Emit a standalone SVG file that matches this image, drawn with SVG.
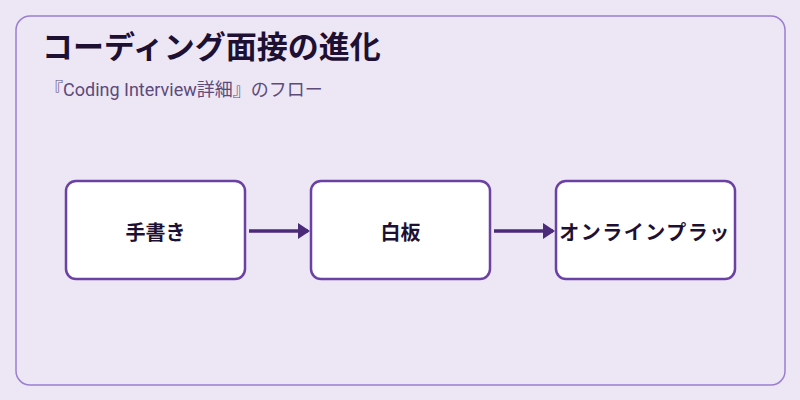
<svg xmlns="http://www.w3.org/2000/svg" width="800" height="400" viewBox="0 0 800 400">
<style>
.node rect{fill:#ffffff;stroke:#6b42a3;stroke-width:2.5}
.node text{font-family:"Noto Sans CJK JP","Noto Sans",sans-serif;font-size:20px;font-weight:bold;fill:#1e1033;text-anchor:middle;dominant-baseline:central}
.conn line{stroke:#4b2a7a;stroke-width:3.5}
</style>
<defs><marker id="ah" markerWidth="12" markerHeight="16" refX="10" refY="8" orient="auto" markerUnits="userSpaceOnUse" viewBox="0 0 12 16"><path d="M0,0 L12,8 L0,16 z" fill="#4b2a7a"/></marker></defs>
<rect width="800" height="400" fill="#ede6f5"/>
<rect x="16" y="16" width="769" height="369" rx="14" fill="none" stroke="#9b7fcf" stroke-width="1.5"/>
<text x="42" y="58" font-family="Noto Sans CJK JP,sans-serif" font-size="31" font-weight="bold" fill="#1e1033">コーディング面接の進化</text>
<text x="45" y="96" font-family="Roboto,Noto Sans CJK JP,sans-serif" font-size="18" fill="#5c4a7a">『Coding Interview詳細』のフロー</text>
<g class="conn">
<line x1="249" y1="231" x2="308" y2="231" marker-end="url(#ah)"/>
<line x1="494" y1="231" x2="553" y2="231" marker-end="url(#ah)"/>
</g>
<g id="n1" class="node"><rect x="66" y="181" width="179" height="98" rx="10"/><text x="155.5" y="231">手書き</text></g>
<g id="n2" class="node"><rect x="311" y="181" width="179" height="98" rx="10"/><text x="400.5" y="231">白板</text></g>
<g id="n3" class="node"><rect x="556" y="181" width="179" height="98" rx="10"/><text x="645" y="231" letter-spacing="1.5">オンラインプラッ</text></g>
</svg>
